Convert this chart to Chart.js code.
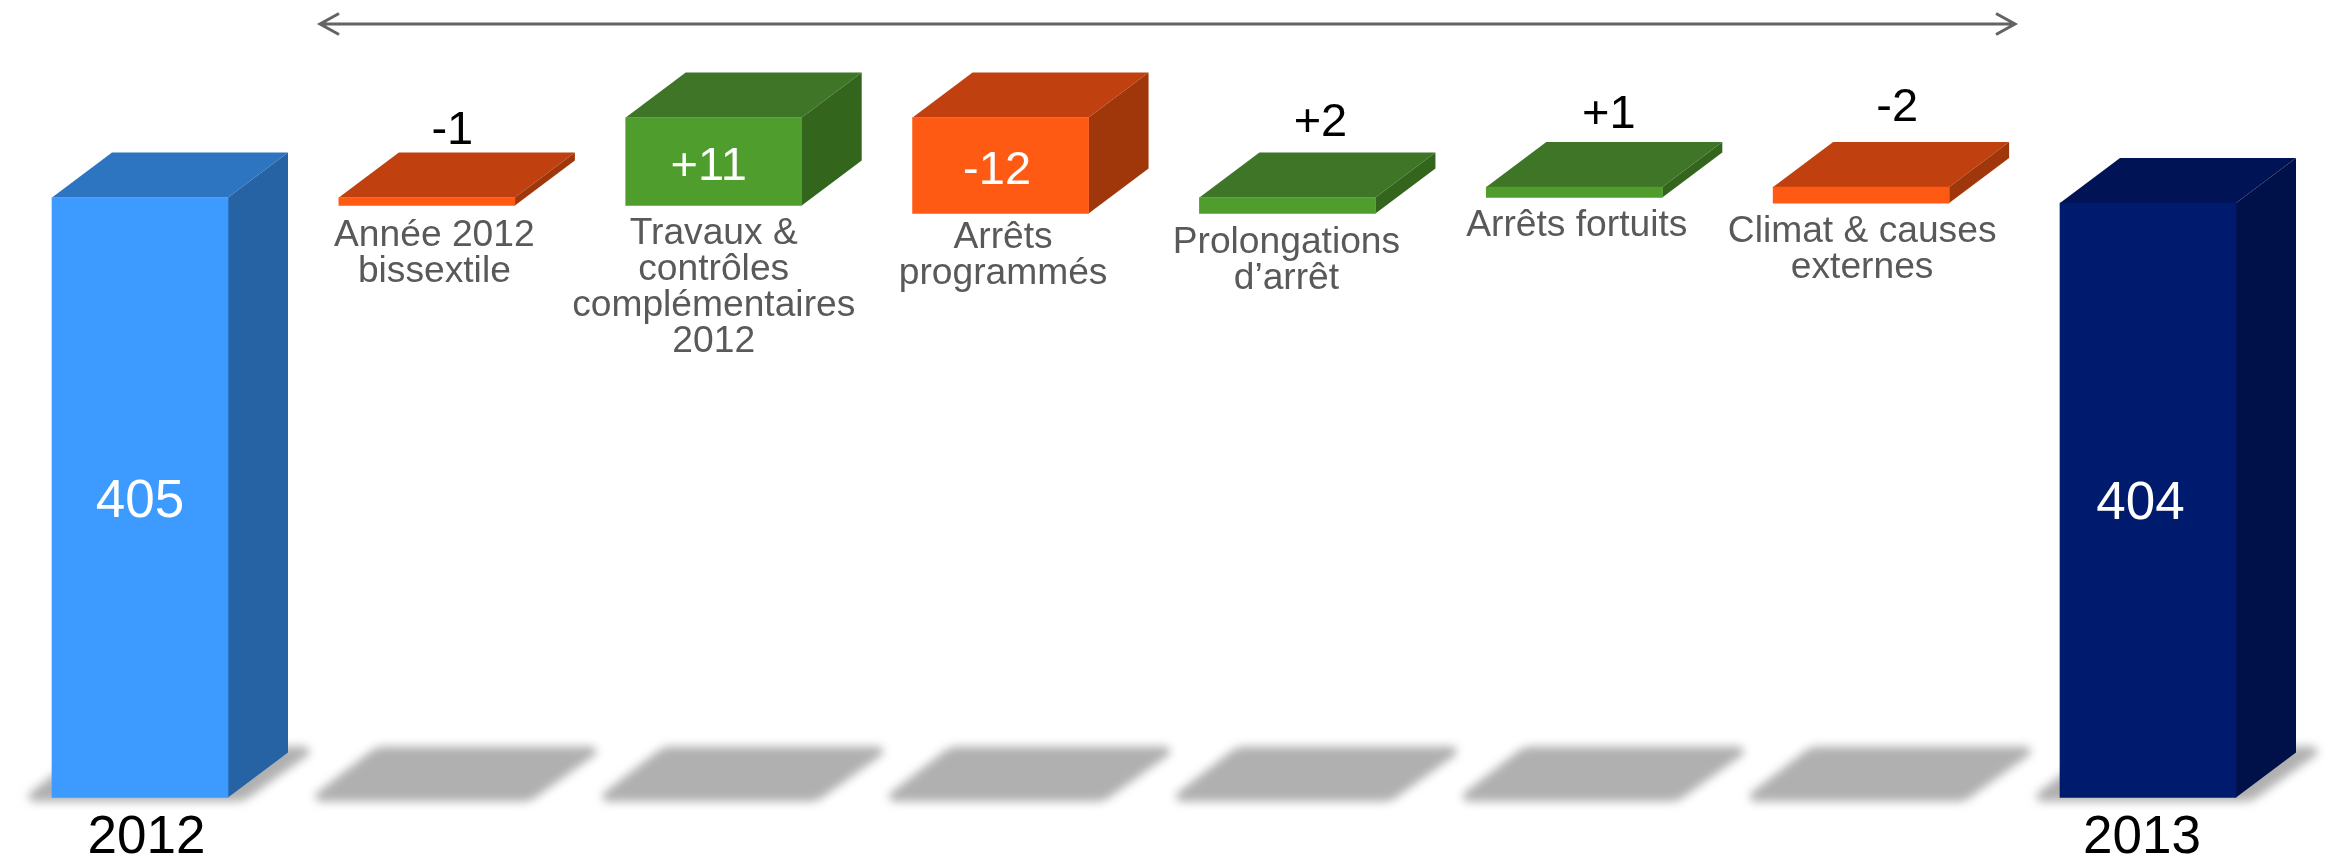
<!DOCTYPE html>
<html lang="fr">
<head>
  <meta charset="UTF-8" />
  <title>Waterfall 2012 - 2013</title>
  <script src="https://cdn.jsdelivr.net/npm/chart.js"></script>
  <style>
    html, body { margin: 0; background: #fff; }
    #wrap { position: relative; width: 2339px; height: 859px; }
  </style>
</head>
<body>
  <div id="wrap"><canvas id="chartCascade"></canvas></div>

  <script>
    // valeurs (l'axe est tronqué : les colonnes partent de 330)
    const categories = ['2012', 'Année 2012 bissextile', 'Travaux & contrôles complémentaires 2012', 'Arrêts programmés', 'Prolongations d’arrêt', 'Arrêts fortuits', 'Climat & causes externes', '2013'];
    const barLows = [330, 404, 404, 403, 403, 405, 404.3, 330];
    const barHighs = [405, 405, 415, 415, 405, 406.3, 406.3, 404.3];
    const valueLabels = ['405', '-1', '+11', '-12', '+2', '+1', '-2', '404'];
    const labelLines = [
      [],
      ['Année 2012', 'bissextile'],
      ['Travaux &', 'contrôles', 'complémentaires', '2012'],
      ['Arrêts', 'programmés'],
      ['Prolongations', 'd’arrêt'],
      ['Arrêts fortuits'],
      ['Climat & causes', 'externes'],
      []
    ];

    const FONT = '"Liberation Sans", Arial, sans-serif';
    const DEPTH_X = 60, DEPTH_Y = 45;

    const couleurs = {
      debut: { front: '#3d9bff', top: '#2e75c1', side: '#2663a5' },
      fin: { front: '#001b6e', top: '#001455', side: '#001049' },
      plus: { front: '#4f9d2d', top: '#3f7526', side: '#33651d' },
      moins: { front: '#ff5a14', top: '#c0400f', side: '#a0370a' }
    };

    function couleurDe(i) {
      if (i === 0) return couleurs.debut;
      if (i === categories.length - 1) return couleurs.fin;
      return valueLabels[i][0] === '+' ? couleurs.plus : couleurs.moins;
    }

    function poly(ctx, pts, fill) {
      ctx.beginPath();
      pts.forEach((p, k) => k ? ctx.lineTo(p[0], p[1]) : ctx.moveTo(p[0], p[1]));
      ctx.closePath();
      ctx.fillStyle = fill;
      ctx.fill();
    }

    // ombre portée au sol : coins aigus presque nets, coins obtus arrondis
    function ombre(ctx, cx, base) {
      const bas = base + 4, haut = base - 51;
      ctx.beginPath();
      ctx.moveTo(cx - 10, bas);
      ctx.arcTo(cx - 121, bas, cx - 50, haut, 5);
      ctx.arcTo(cx - 50, haut, cx + 180, haut, 22);
      ctx.arcTo(cx + 180, haut, cx + 103, bas, 5);
      ctx.arcTo(cx + 103, bas, cx - 10, bas, 22);
      ctx.closePath();
      ctx.fill();
    }

    const cube3d = {
      id: 'cube3d',
      beforeDatasetsDraw(chart) {
        const ctx = chart.ctx;
        const els = chart.getDatasetMeta(0).data;
        const sol = chart.scales.y.getPixelForValue(barLows[0]);
        ctx.save();
        ctx.filter = 'blur(5px)';
        ctx.fillStyle = '#b0b0b0';
        els.forEach(el => ombre(ctx, el.x, sol));
        ctx.filter = 'none';
        ctx.restore();

        els.forEach((el, i) => {
          const c = couleurDe(i);
          const g = el.x - el.width / 2, d = el.x + el.width / 2;
          const haut = Math.min(el.y, el.base), bas = Math.max(el.y, el.base);
          poly(ctx, [[g, haut], [g + DEPTH_X, haut - DEPTH_Y], [d + DEPTH_X, haut - DEPTH_Y], [d, haut]], c.top);
          poly(ctx, [[d, haut], [d + DEPTH_X, haut - DEPTH_Y], [d + DEPTH_X, bas - DEPTH_Y], [d, bas]], c.side);
        });
      },
      afterDatasetsDraw(chart) {
        const ctx = chart.ctx;
        const els = chart.getDatasetMeta(0).data;
        const decalLabel = [0, 7.5, 0, 2.5, -1, 2.5, 1, 0];
        const ecartLabel = [0, 40, 38.5, 34.5, 39.5, 38.7, 39.3, 0];
        const decalValeur = [0, 25.5, -5, -3.5, 33, 34.5, 36, -7.5];
        const ecartValeur = [0, 9, 0, 0, 16.5, 14, 21, 0];

        ctx.save();
        ctx.textAlign = 'center';
        ctx.textBaseline = 'alphabetic';
        els.forEach((el, i) => {
          const haut = Math.min(el.y, el.base), bas = Math.max(el.y, el.base);
          const dedans = bas - haut > 50;
          const grand = i === 0 || i === els.length - 1;

          ctx.font = (grand ? 53 : 47) + 'px ' + FONT;
          ctx.fillStyle = dedans ? '#ffffff' : '#000000';
          const yVal = dedans ? (haut + bas) / 2 + (grand ? 19 : 18) : haut - DEPTH_Y - ecartValeur[i];
          ctx.fillText(valueLabels[i], el.x + decalValeur[i], yVal);

          ctx.font = '37.2px ' + FONT;
          ctx.fillStyle = '#595959';
          labelLines[i].forEach((ligne, k) => {
            ctx.fillText(ligne, el.x + decalLabel[i], bas + ecartLabel[i] + k * 36);
          });
        });

        // années sous les deux colonnes pleines
        ctx.font = '53px ' + FONT;
        ctx.fillStyle = '#000000';
        ctx.fillText(categories[0], els[0].x + 6.5, 853);
        ctx.fillText(categories[7], els[7].x - 6, 853);

        // flèche du haut
        ctx.strokeStyle = '#636363';
        ctx.lineWidth = 3;
        ctx.beginPath();
        ctx.moveTo(320, 24);
        ctx.lineTo(2015, 24);
        ctx.moveTo(339, 13.5);
        ctx.lineTo(320, 24);
        ctx.lineTo(339, 34.5);
        ctx.moveTo(1996, 13.5);
        ctx.lineTo(2015, 24);
        ctx.lineTo(1996, 34.5);
        ctx.stroke();
        ctx.restore();
      }
    };

    new Chart(document.getElementById('chartCascade').getContext('2d'), {
      type: 'bar',
      data: {
        labels: categories,
        datasets: [{
          data: barLows.map((b, i) => [b, barHighs[i]]),
          backgroundColor: categories.map((_, i) => couleurDe(i).front),
          borderWidth: 0,
          barThickness: 176,
          clip: false
        }]
      },
      options: {
        responsive: true,
        maintainAspectRatio: false,
        animation: false,
        layout: { padding: { left: 140, right: 191, top: 37.5, bottom: 61.5 } },
        plugins: { legend: { display: false }, tooltip: { enabled: false } },
        scales: {
          x: { display: false, offset: false, grid: { display: false } },
          y: { display: false, min: 330, max: 425, grid: { display: false } }
        }
      },
      plugins: [cube3d]
    });
  </script>
</body>
</html>
